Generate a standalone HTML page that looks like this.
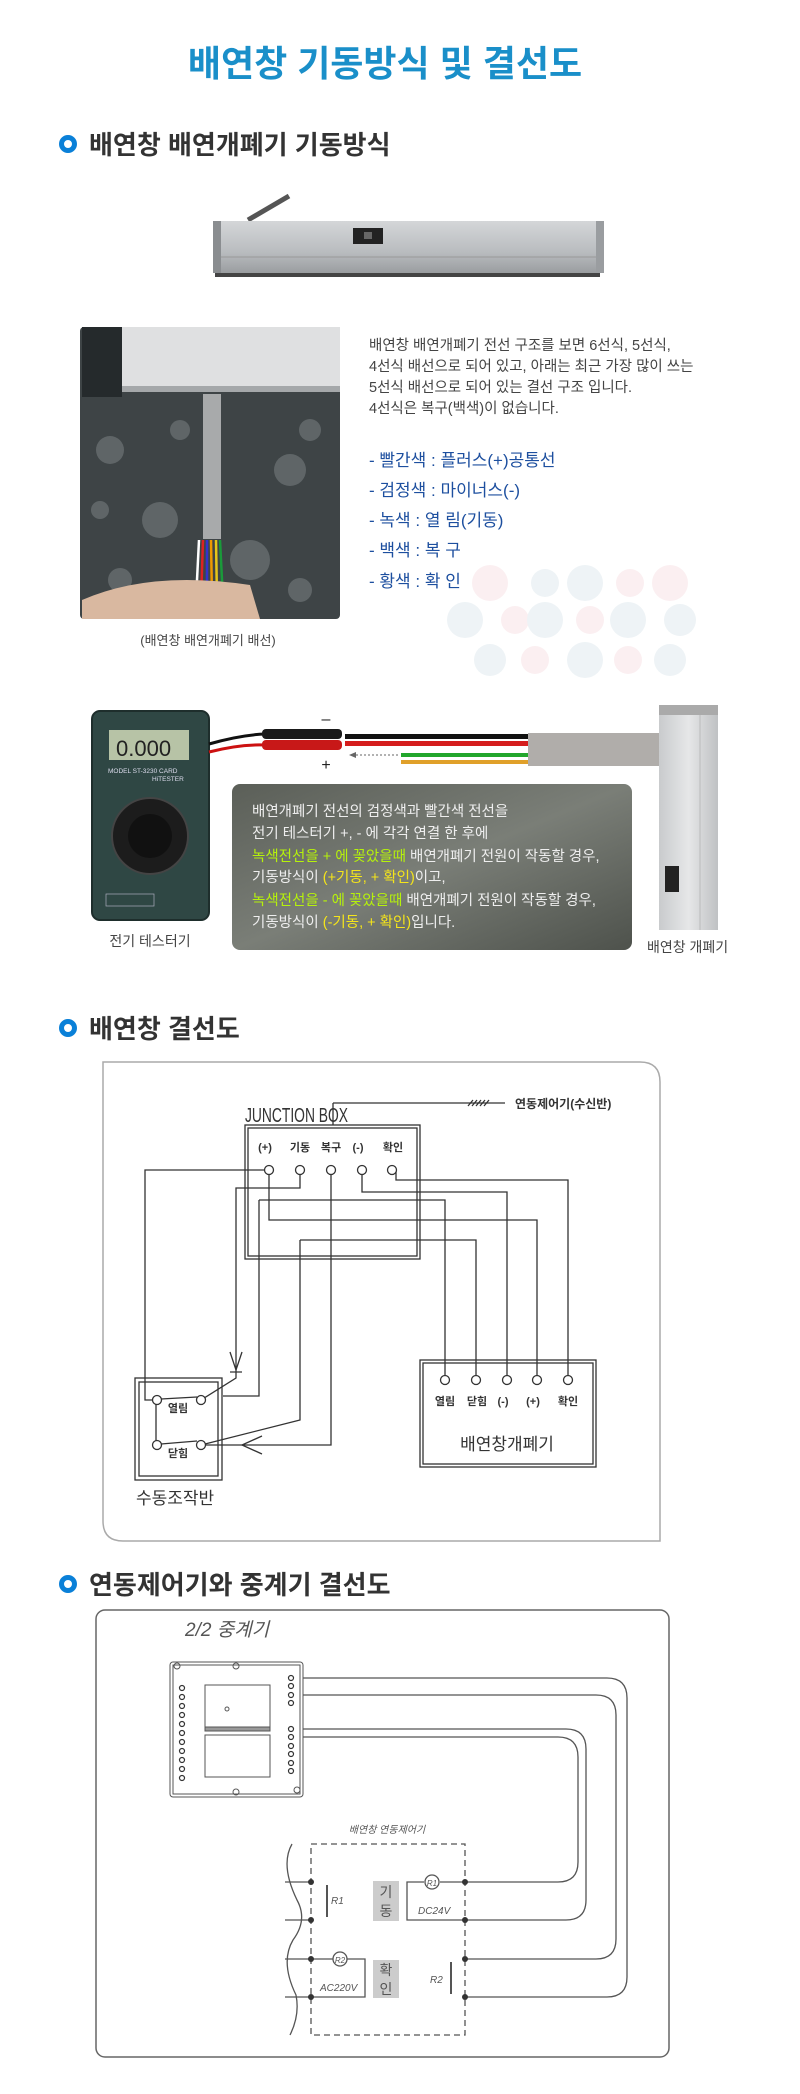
<!DOCTYPE html>
<html><head><meta charset="utf-8">
<style>
html,body{margin:0;padding:0;background:#fff;}
body{width:800px;height:2094px;overflow:hidden;}
svg{display:block;}
text{font-family:"Liberation Sans","Noto Sans CJK KR",sans-serif;}
</style></head><body>
<svg width="800" height="2094" viewBox="0 0 800 2094" xmlns="http://www.w3.org/2000/svg">
<defs>
<linearGradient id="bar" x1="0" y1="0" x2="0" y2="1">
<stop offset="0" stop-color="#d4d6d8"/><stop offset="0.6" stop-color="#b9bcbf"/><stop offset="1" stop-color="#9a9da0"/></linearGradient>
<linearGradient id="box" x1="0" y1="0" x2="1" y2="1">
<stop offset="0" stop-color="#5b5f58"/><stop offset="0.5" stop-color="#7a7e77"/><stop offset="1" stop-color="#4e524c"/></linearGradient>
<linearGradient id="frame" x1="0" y1="0" x2="1" y2="0">
<stop offset="0" stop-color="#c9cbcd"/><stop offset="0.5" stop-color="#e6e7e8"/><stop offset="1" stop-color="#bfc1c3"/></linearGradient>
</defs>

<!-- Title -->
<text x="385" y="76" text-anchor="middle" font-size="36" font-weight="bold" fill="#1a8fc9" stroke="#ffffff" stroke-width="1" style="paint-order:stroke">배연창 기동방식 및 결선도</text>

<!-- Section 1 heading -->
<circle cx="68" cy="144" r="6.5" fill="none" stroke="#0a80d8" stroke-width="5"/>
<text x="89" y="154" font-size="26" font-weight="bold" fill="#333">배연창 배연개폐기 기동방식</text>

<!-- product bar -->
<line x1="248" y1="220" x2="289" y2="196" stroke="#555" stroke-width="5"/>
<rect x="213" y="221" width="391" height="52" fill="url(#bar)"/>
<rect x="213" y="221" width="8" height="52" fill="#8a8d90"/>
<rect x="596" y="221" width="8" height="52" fill="#9a9da0"/>
<line x1="221" y1="257" x2="596" y2="257" stroke="#999" stroke-width="1"/>
<rect x="215" y="273" width="385" height="4" fill="#444"/>
<rect x="353" y="228" width="30" height="16" fill="#222"/>
<rect x="364" y="232" width="8" height="7" fill="#666"/>

<!-- photo -->
<rect x="80" y="327" width="260" height="292" rx="4" fill="#3e4446"/>
<g fill="#6d7476" opacity="0.7">
<circle cx="110" cy="450" r="14"/><circle cx="160" cy="520" r="18"/><circle cx="290" cy="470" r="16"/><circle cx="250" cy="560" r="20"/><circle cx="120" cy="580" r="12"/><circle cx="300" cy="590" r="12"/><circle cx="180" cy="430" r="10"/><circle cx="310" cy="430" r="11"/><circle cx="100" cy="510" r="9"/></g>
<rect x="122" y="327" width="218" height="65" fill="#dfe0e1"/>
<rect x="122" y="386" width="218" height="6" fill="#a5a8aa"/>
<rect x="82" y="327" width="40" height="70" fill="#252a2c"/>
<rect x="203" y="394" width="18" height="145" fill="#a8aaab"/>
<g stroke-width="2.5"><line x1="199" y1="540" x2="196" y2="600" stroke="#fff"/><line x1="203" y1="540" x2="201" y2="600" stroke="#d22"/><line x1="207" y1="540" x2="207" y2="600" stroke="#33c"/><line x1="211" y1="540" x2="212" y2="600" stroke="#e90"/><line x1="216" y1="540" x2="217" y2="600" stroke="#e6c61a"/><line x1="220" y1="540" x2="223" y2="600" stroke="#1a9a3a"/></g>
<path d="M82 600 Q150 570 250 585 L260 619 L82 619 Z" fill="#d9b8a0"/>
<text x="208" y="645" text-anchor="middle" font-size="13" fill="#444">(배연창 배연개폐기 배선)</text>

<!-- dots bg -->
<g fill="#eef3f6">
<circle cx="490" cy="583" r="18" fill="#fbeff1"/><circle cx="545" cy="583" r="14"/><circle cx="585" cy="583" r="18"/><circle cx="630" cy="583" r="14" fill="#fbeff1"/><circle cx="670" cy="583" r="18" fill="#fbeff1"/>
<circle cx="465" cy="620" r="18"/><circle cx="515" cy="620" r="14" fill="#fbeff1"/><circle cx="545" cy="620" r="18"/><circle cx="590" cy="620" r="14" fill="#fbeff1"/><circle cx="628" cy="620" r="18"/><circle cx="680" cy="620" r="16"/>
<circle cx="490" cy="660" r="16"/><circle cx="535" cy="660" r="14" fill="#fbeff1"/><circle cx="585" cy="660" r="18"/><circle cx="628" cy="660" r="14" fill="#fbeff1"/><circle cx="670" cy="660" r="16"/>
</g>

<!-- paragraph -->
<g font-size="14.5" fill="#444">
<text x="369" y="350">배연창 배연개폐기 전선 구조를 보면 6선식, 5선식,</text>
<text x="369" y="371">4선식 배선으로 되어 있고, 아래는 최근 가장 많이 쓰는</text>
<text x="369" y="392">5선식 배선으로 되어 있는 결선 구조 입니다.</text>
<text x="369" y="413">4선식은 복구(백색)이 없습니다.</text>
</g>
<g font-size="17" fill="#1d4f9f">
<text x="369" y="466">- 빨간색 : 플러스(+)공통선</text>
<text x="369" y="496">- 검정색 : 마이너스(-)</text>
<text x="369" y="526">- 녹색 : 열 림(기동)</text>
<text x="369" y="556">- 백색 : 복 구</text>
<text x="369" y="587">- 황색 : 확 인</text>
</g>

<!-- multimeter -->
<rect x="92" y="711" width="117" height="209" rx="8" fill="#2f4744" stroke="#1e2e2c" stroke-width="2"/>
<rect x="109" y="730" width="80" height="30" fill="#b7c3a6"/>
<text x="116" y="756" font-size="22" font-family="Liberation Mono" fill="#222">0.000</text>
<text x="108" y="773" font-size="6.5" fill="#dde">MODEL ST-3230 CARD</text>
<text x="152" y="781" font-size="6.5" fill="#dde">HiTESTER</text>
<circle cx="150" cy="836" r="38" fill="#1c1c1c" stroke="#444" stroke-width="2"/>
<circle cx="150" cy="836" r="22" fill="#111"/>
<rect x="106" y="894" width="48" height="12" fill="none" stroke="#aab" stroke-width="0.7"/>
<text x="150" y="946" text-anchor="middle" font-size="14" fill="#444">전기 테스터기</text>

<!-- probes -->
<path d="M209 744 Q240 735 265 734" stroke="#111" stroke-width="3" fill="none"/>
<path d="M209 752 Q240 744 265 745" stroke="#c11" stroke-width="3" fill="none"/>
<rect x="262" y="729" width="80" height="10" rx="4" fill="#1a1a1a"/>
<rect x="262" y="740" width="80" height="10" rx="4" fill="#c81818"/>
<text x="326" y="724" text-anchor="middle" font-size="16" fill="#222">–</text>
<text x="326" y="770" text-anchor="middle" font-size="16" fill="#222">+</text>
<rect x="345" y="734" width="183" height="5" fill="#111"/>
<rect x="345" y="741" width="183" height="5" fill="#d51d1d"/>
<rect x="401" y="753" width="127" height="4" fill="#22a62c"/>
<rect x="401" y="760" width="127" height="4" fill="#e0a02a"/>
<line x1="352" y1="755" x2="399" y2="755" stroke="#666" stroke-dasharray="2,2"/>
<path d="M349 755 L356 752 L356 758 Z" fill="#666"/>
<rect x="528" y="733" width="131" height="33" fill="#b0adaa"/>
<rect x="659" y="705" width="59" height="225" fill="url(#frame)"/>
<rect x="659" y="705" width="59" height="10" fill="#aaa"/>
<line x1="700" y1="715" x2="700" y2="930" stroke="#bbb"/>
<rect x="665" y="866" width="14" height="26" fill="#222"/>
<text x="647" y="952" font-size="14" fill="#444">배연창 개폐기</text>

<!-- dark box -->
<rect x="232" y="784" width="400" height="166" rx="8" fill="url(#box)"/>
<g font-size="14.5" fill="#eee">
<text x="252" y="816">배연개폐기 전선의 검정색과 빨간색 전선을</text>
<text x="252" y="838">전기 테스터기 +, - 에  각각 연결 한 후에</text>
<text x="252" y="861"><tspan fill="#b6f20a">녹색전선을 + 에 꽂았을때</tspan> 배연개폐기 전원이 작동할 경우,</text>
<text x="252" y="882">기동방식이  <tspan fill="#f5e51a">(+기동, + 확인)</tspan>이고,</text>
<text x="252" y="905"><tspan fill="#b6f20a">녹색전선을 - 에 꽂았을때</tspan> 배연개폐기 전원이 작동할 경우,</text>
<text x="252" y="927">기동방식이  <tspan fill="#f5e51a">(-기동, + 확인)</tspan>입니다.</text>
</g>

<!-- Section 2 -->
<circle cx="68" cy="1028" r="6.5" fill="none" stroke="#0a80d8" stroke-width="5"/>
<text x="89" y="1038" font-size="26" font-weight="bold" fill="#333">배연창 결선도</text>
<path d="M103 1062 H640 Q660 1062 660 1082 V1541 H123 Q103 1541 103 1521 Z" fill="none" stroke="#aaa" stroke-width="1.5"/>

<g stroke="#333" stroke-width="1.3" fill="none">
<line x1="333" y1="1103" x2="505" y2="1103"/>
<line x1="333" y1="1103" x2="333" y2="1125"/>
<path d="M468 1106 L473 1100 M472 1106 L477 1100 M476 1106 L481 1100 M480 1106 L485 1100 M484 1106 L489 1100"/>
<rect x="245" y="1125" width="175" height="134"/>
<rect x="248" y="1128" width="169" height="128"/>
<path d="M269 1174 V1175 M265 1170 H145 V1400 H153"/>
<path d="M300 1175 V1188 H236 V1378 L201 1400"/>
<path d="M230 1352 L236 1370 L242 1352 M230 1372 H242"/>
<path d="M331 1175 V1445 H205"/>
<path d="M262 1436 L242 1445 L262 1454"/>
<path d="M362 1175 V1192 H507 V1376"/>
<path d="M396 1170 V1180 H568 V1376"/>
<path d="M259 1200 H445 V1376"/>
<path d="M259 1200 V1396 H223"/>
<path d="M269 1175 V1220 H537 V1376"/>
<path d="M300 1240 H476 V1376"/>
<path d="M300 1240 V1420 L205 1444"/>
<rect x="135" y="1378" width="87" height="102"/>
<rect x="139" y="1382" width="79" height="94"/>
<line x1="156" y1="1404" x2="156" y2="1441"/>
<line x1="161" y1="1399" x2="197" y2="1397"/>
<line x1="161" y1="1444" x2="197" y2="1441"/>
<rect x="420" y="1360" width="176" height="107"/>
<rect x="423" y="1363" width="170" height="101"/>
</g>
<g fill="#fff" stroke="#333" stroke-width="1.3">
<circle cx="269" cy="1170" r="4.5"/><circle cx="300" cy="1170" r="4.5"/><circle cx="331" cy="1170" r="4.5"/><circle cx="362" cy="1170" r="4.5"/><circle cx="392" cy="1170" r="4.5"/>
<circle cx="157" cy="1400" r="4.5"/><circle cx="201" cy="1400" r="4.5"/><circle cx="157" cy="1445" r="4.5"/><circle cx="201" cy="1445" r="4.5"/>
<circle cx="445" cy="1380" r="4.5"/><circle cx="476" cy="1380" r="4.5"/><circle cx="507" cy="1380" r="4.5"/><circle cx="537" cy="1380" r="4.5"/><circle cx="568" cy="1380" r="4.5"/>
</g>
<g fill="#333">
<text x="245" y="1122" font-size="20" textLength="103" lengthAdjust="spacingAndGlyphs">JUNCTION BOX</text>
<text x="515" y="1108" font-size="12" font-weight="bold">연동제어기(수신반)</text>
<g font-size="11" font-weight="bold" text-anchor="middle">
<text x="265" y="1151">(+)</text><text x="300" y="1151">기동</text><text x="331" y="1151">복구</text><text x="358" y="1151">(-)</text><text x="393" y="1151">확인</text>
<text x="178" y="1412">열림</text><text x="178" y="1457">닫힘</text>
<text x="445" y="1405">열림</text><text x="477" y="1405">닫힘</text><text x="503" y="1405">(-)</text><text x="533" y="1405">(+)</text><text x="568" y="1405">확인</text>
</g>
<text x="507" y="1450" font-size="17" text-anchor="middle">배연창개폐기</text>
<text x="136" y="1504" font-size="17">수동조작반</text>
</g>

<!-- Section 3 -->
<circle cx="68" cy="1584" r="6.5" fill="none" stroke="#0a80d8" stroke-width="5"/>
<text x="89" y="1594" font-size="26" font-weight="bold" fill="#333">연동제어기와 중계기 결선도</text>
<rect x="96" y="1610" width="573" height="447" rx="9" fill="none" stroke="#666" stroke-width="1.5"/>
<text x="185" y="1636" font-size="19" font-style="italic" fill="#555">2/2 중계기</text>

<g stroke="#555" stroke-width="1" fill="none">
<rect x="170" y="1662" width="133" height="135" rx="3"/>
<rect x="173" y="1665" width="127" height="129"/>
<rect x="205" y="1685" width="65" height="45"/>
<rect x="205" y="1727" width="65" height="4" fill="#999"/>
<rect x="205" y="1735" width="65" height="42"/>
<circle cx="177" cy="1666" r="3"/><circle cx="297" cy="1790" r="3"/>
<circle cx="236" cy="1666" r="3"/><circle cx="236" cy="1792" r="3"/>
<circle cx="227" cy="1709" r="2"/>
</g>
<g fill="#fff" stroke="#333" stroke-width="1.2">
<circle cx="182" cy="1688" r="2.5"/><circle cx="182" cy="1697" r="2.5"/><circle cx="182" cy="1706" r="2.5"/><circle cx="182" cy="1715" r="2.5"/><circle cx="182" cy="1724" r="2.5"/><circle cx="182" cy="1733" r="2.5"/><circle cx="182" cy="1742" r="2.5"/><circle cx="182" cy="1751" r="2.5"/><circle cx="182" cy="1760" r="2.5"/><circle cx="182" cy="1769" r="2.5"/><circle cx="182" cy="1778" r="2.5"/>
<circle cx="291" cy="1678" r="2.5"/><circle cx="291" cy="1686" r="2.5"/><circle cx="291" cy="1695" r="2.5"/><circle cx="291" cy="1703" r="2.5"/>
<circle cx="291" cy="1729" r="2.5"/><circle cx="291" cy="1737" r="2.5"/><circle cx="291" cy="1746" r="2.5"/><circle cx="291" cy="1754" r="2.5"/><circle cx="291" cy="1763" r="2.5"/><circle cx="291" cy="1771" r="2.5"/>
</g>
<g stroke="#555" stroke-width="1.3" fill="none">
<path d="M303 1678 H607 Q627 1678 627 1698 V1977 Q627 1997 607 1997 H465"/>
<path d="M303 1695 H596 Q616 1695 616 1715 V1939 Q616 1959 596 1959 H465"/>
<path d="M303 1729 H566 Q586 1729 586 1749 V1900 Q586 1920 566 1920 H465"/>
<path d="M303 1737 H558 Q578 1737 578 1757 V1862 Q578 1882 558 1882 H465"/>
<rect x="311" y="1844" width="154" height="191" stroke-dasharray="6,4"/>
<path d="M292 1844 Q280 1865 297 1900 Q308 1920 293 1940 Q280 1962 296 1995 Q300 2015 290 2035"/>
<line x1="285" y1="1882" x2="311" y2="1882"/><line x1="285" y1="1920" x2="311" y2="1920"/>
<line x1="285" y1="1959" x2="311" y2="1959"/><line x1="285" y1="1997" x2="311" y2="1997"/>
<line x1="327" y1="1885" x2="327" y2="1917" stroke-width="2"/>
<line x1="451" y1="1962" x2="451" y2="1994" stroke-width="2"/>
<path d="M465 1882 H440 M424 1882 H407 V1920 H465"/>
<circle cx="432" cy="1882" r="7"/>
<path d="M311 1959 H333 M347 1959 H365 V1997 H311"/>
<circle cx="340" cy="1959" r="7"/>
</g>
<g fill="#333"><circle cx="311" cy="1882" r="3"/><circle cx="311" cy="1920" r="3"/><circle cx="311" cy="1959" r="3"/><circle cx="311" cy="1997" r="3"/>
<circle cx="465" cy="1882" r="3"/><circle cx="465" cy="1920" r="3"/><circle cx="465" cy="1959" r="3"/><circle cx="465" cy="1997" r="3"/></g>
<rect x="373" y="1881" width="26" height="40" fill="#ccc"/>
<rect x="373" y="1960" width="26" height="38" fill="#ccc"/>
<g fill="#555" font-style="italic">
<text x="387" y="1833" font-size="10" text-anchor="middle">배연창 연동제어기</text>
<text x="331" y="1904" font-size="10">R1</text>
<text x="432" y="1886" font-size="8" text-anchor="middle">R1</text>
<text x="418" y="1914" font-size="10">DC24V</text>
<text x="430" y="1983" font-size="10">R2</text>
<text x="340" y="1963" font-size="8" text-anchor="middle">R2</text>
<text x="320" y="1991" font-size="10">AC220V</text>
</g>
<g fill="#555" font-size="14" text-anchor="middle">
<text x="386" y="1897">기</text><text x="386" y="1916">동</text>
<text x="386" y="1975">확</text><text x="386" y="1994">인</text>
</g>
</svg>
</body></html>
